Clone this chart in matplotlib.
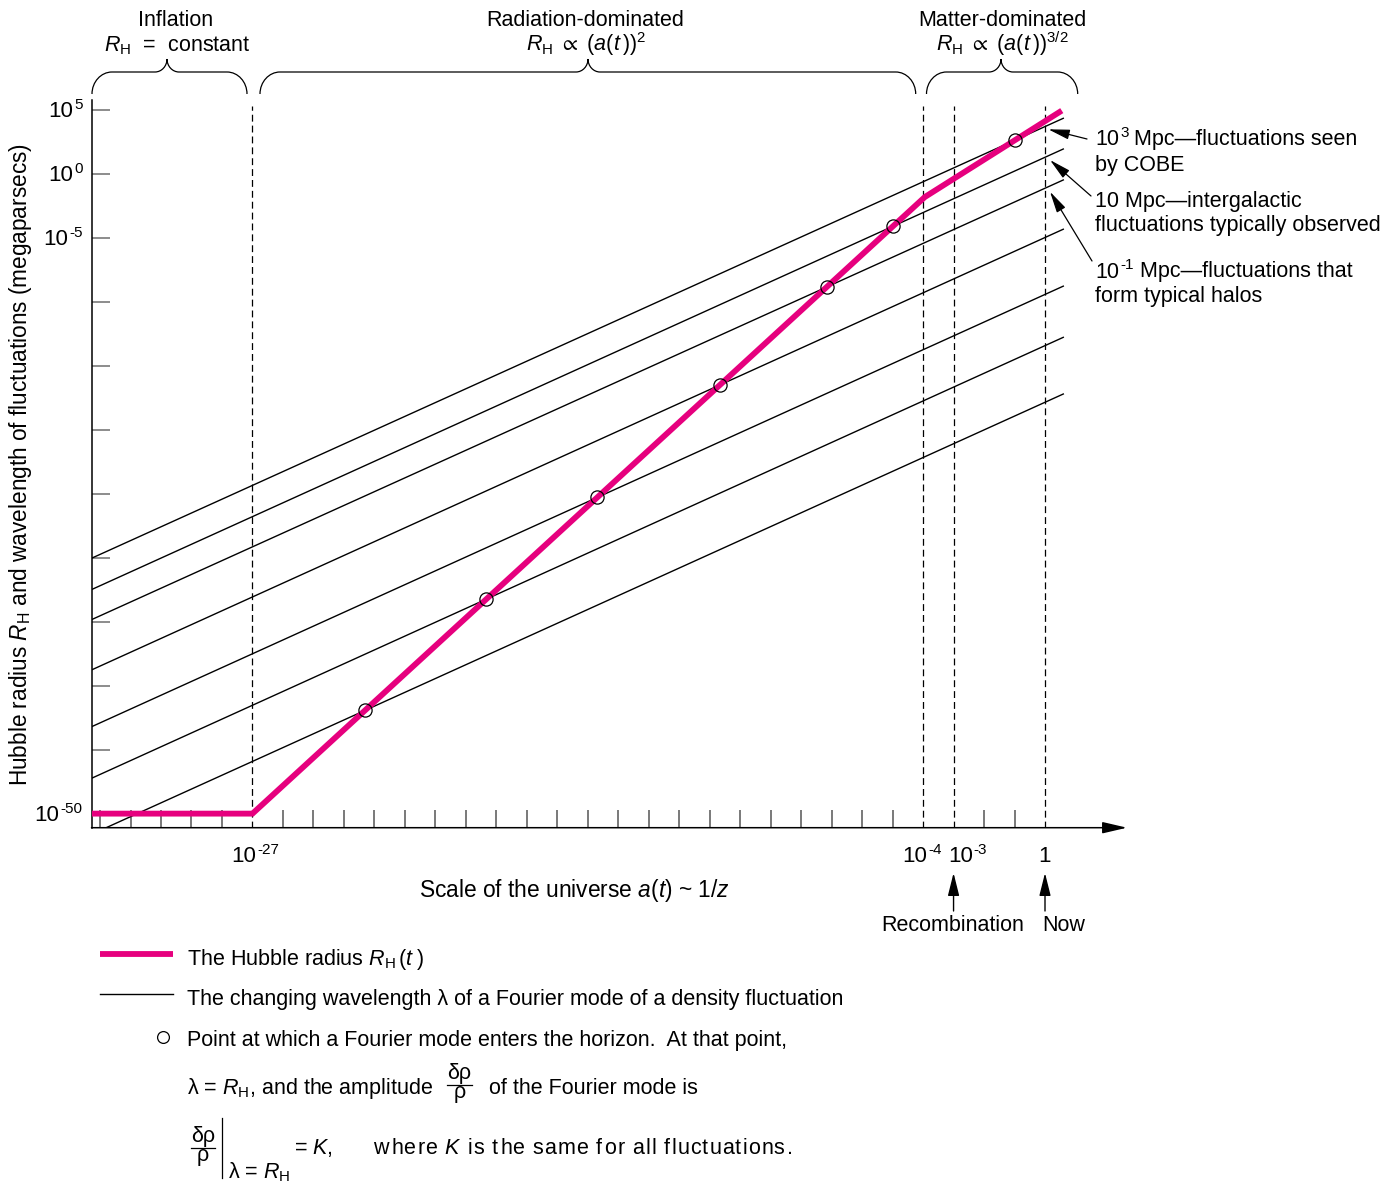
import numpy as np
import matplotlib
matplotlib.use("Agg")
import matplotlib.pyplot as plt
from matplotlib.lines import Line2D
from matplotlib.path import Path
from matplotlib.patches import PathPatch, FancyArrowPatch
from matplotlib import font_manager
from matplotlib.ft2font import FT2Font

plt.rcParams['font.family'] = ['Liberation Sans', 'DejaVu Sans']
plt.rcParams['mathtext.fontset'] = 'custom'
plt.rcParams['mathtext.rm'] = 'Liberation Sans'
plt.rcParams['mathtext.it'] = 'Liberation Sans:italic'
plt.rcParams['mathtext.bf'] = 'Liberation Sans:bold'
plt.rcParams['mathtext.sf'] = 'Liberation Sans'
plt.rcParams['mathtext.fallback'] = 'stixsans'

PINK = '#E6007E'

# ---------------- data ----------------
# horizontal coordinate: schematic log a(t), one unit per tick mark, 0 = today
hubble_x = [-31.28, -26.0, -3.94, 0.55]
hubble_logR = [-50.0, -50.0, -1.80, 4.95]          # log10 R_H (Mpc)

wave_x = [-31.28, 0.60]
wave_logR_start = [-30.04, -32.49, -34.84, -38.77, -43.21, -47.24, -51.62]
wave_logR_end = [4.35, 1.95, -0.47, -4.32, -8.77, -12.77, -17.20]

epoch_x = [-26, -4, -3, 0]
epoch_base = ['10', '10', '10', '1']
epoch_exp = ['-27', '-4', '-3', '']

y_ticks = list(range(5, -51, -5))
y_label_vals = [5, 0, -5, -50]
y_label_exp = ['5', '0', '-5', '-50']

era_titles = ['Inflation', 'Radiation-dominated', 'Matter-dominated']
era_laws = [r'$R_{\mathrm{H}}$  =  constant',
            r'$R_{\mathrm{H}}\ \propto\ (a(t\,))^{2}$',
            r'$R_{\mathrm{H}}\ \propto\ (a(t\,))^{3/2}$']

# ---------------- figure ----------------
W, H = 1395, 1183
fig = plt.figure(figsize=(W / 100, H / 100), dpi=100)
fig.patch.set_facecolor('white')
renderer = fig.canvas.get_renderer()


def fpos(px, py):
    return (px / W, 1 - py / H)


AX_L, AX_R, AX_B, AX_T = 91.5, 1127.0, 827.7, 100.0
ax = fig.add_axes([AX_L / W, 1 - AX_B / H, (AX_R - AX_L) / W, (AX_B - AX_T) / H])
ax.set_xlim(-31.28, 2.69)
ax.set_ylim(-51.10, 5.78)
ax.patch.set_alpha(0)
for s in ['top', 'right', 'bottom']:
    ax.spines[s].set_visible(False)
ax.spines['left'].set_linewidth(1.1)

ax.set_yticks(y_ticks)
ax.set_yticklabels([])
ax.tick_params(axis='y', direction='in', length=13, width=1.1, color='#6e6e6e')
ax.set_xticks([k for k in range(-31, 1) if k not in epoch_x])
ax.set_xticklabels([])
ax.tick_params(axis='x', direction='in', length=13, width=1.1, color='#555555')

# x axis with arrow head
ax.annotate('', xy=(1, 0), xytext=(0, 0), xycoords='axes fraction',
            arrowprops=dict(arrowstyle='-|>,head_length=1.5,head_width=0.35',
                            mutation_scale=10, lw=1.1, color='black',
                            shrinkA=0, shrinkB=0), annotation_clip=False)

# epoch markers
ax.vlines(epoch_x, ax.get_ylim()[0], 5.3, colors='black',
          linestyles=(0, (5.5, 3.2)), lw=0.9, zorder=1)

# wavelengths of Fourier modes
for y0, y1 in zip(wave_logR_start, wave_logR_end):
    ax.plot(wave_x, [y0, y1], color='black', lw=1.0, zorder=2)

# Hubble radius
ax.plot(hubble_x, hubble_logR, color=PINK, lw=4.2, zorder=3,
        solid_capstyle='butt', solid_joinstyle='miter')

# horizon entry points: where R_H overtakes each wavelength
xs = np.linspace(wave_x[0], wave_x[1], 60001)
hub = np.interp(xs, hubble_x, hubble_logR)
cx, cy = [], []
for y0, y1 in zip(wave_logR_start, wave_logR_end):
    wav = np.interp(xs, wave_x, [y0, y1])
    d = hub - wav
    idx = np.where((d[:-1] < 0) & (d[1:] >= 0))[0]
    for i in idx:
        t = -d[i] / (d[i + 1] - d[i])
        xi = xs[i] + t * (xs[i + 1] - xs[i])
        cx.append(xi)
        cy.append(np.interp(xi, wave_x, [y0, y1]))
ax.plot(cx, cy, 'o', mfc='none', mec='black', mew=0.9, ms=9.5, zorder=4)


# ---------------- text helpers ----------------
def rich(px, py, parts, ha='left', **kw):
    """Lay out text pieces on one baseline; numbers are gaps in pixels,
    tuples are (text, fontsize, rise_px)."""
    items, x = [], 0.0
    for p in parts:
        if isinstance(p, (int, float)):
            x += p
            continue
        s, size, rise = p
        t = fig.text(0, 0, s, fontsize=size, ha='left', va='baseline', **kw)
        w = t.get_window_extent(renderer).width
        items.append((t, x, rise))
        x += w
    x0 = px - {'left': 0.0, 'center': x / 2, 'right': x}[ha]
    for t, off, rise in items:
        t.set_position(fpos(x0 + off, py - rise))


def tracked(px, py, runs, size, track):
    """Letter-spaced text: runs are (text, style) pieces set glyph by glyph."""
    x = px
    for s, style in runs:
        path = font_manager.findfont(
            font_manager.FontProperties(family='Liberation Sans', style=style))
        face = FT2Font(path)
        face.set_size(size, 100)
        for ch in s:
            g = face.load_char(ord(ch))
            if ch != ' ':
                fig.text(*fpos(x + g.horiBearingX / 64, py), ch, fontsize=size,
                         style=style, ha='left', va='baseline')
            x += g.linearHoriAdvance / 65536 + track


def data_px(x, y):
    dx, dy = ax.transData.transform((x, y))
    return dx, H - dy


FS = 15.5
SUP = 11

# y tick labels
for v, e in zip(y_label_vals, y_label_exp):
    _, py = data_px(0, v)
    rich(82.5, py + 7.5, [('10', 16, 0), 1, (e, SUP, 8)], ha='right')

# x tick labels
epoch_label_dx = [3, -1, 14, -1]
for xv, b, e, dx in zip(epoch_x, epoch_base, epoch_exp, epoch_label_dx):
    px, _ = data_px(xv, 0)
    parts = [(b, 16, 0)]
    if e:
        parts += [1, (e, SUP, 8)]
    rich(px + dx, 861.7, parts, ha='center')

# axis titles
fig.text(*fpos(574, 897), r'Scale of the universe $a(t)$ ~ 1/$z$',
         fontsize=16.4, ha='center', va='baseline')
fig.text(*fpos(21, 465),
         r'Hubble radius $R_{\mathrm{H}}$ and wavelength of fluctuations (megaparsecs)',
         fontsize=16.3, ha='center', va='center', rotation=90)

# eras with braces
brace_spans = [(92, 247, 167), (260, 915.7, 588), (926.5, 1077.7, 1001)]
title_cx = [176, 585, 1002]
law_cx = [177, 586, 1002]


def brace(x0, x1, xc, y_end=94.0, y_top=72.0, y_tip=59.0, r=20.0, rc=12.0):
    hv = y_end - y_top
    hc = y_top - y_tip
    pts = [
        (x0, y_end),
        (x0, y_end - 0.55 * hv), (x0 + r * 0.45, y_top), (x0 + r, y_top),
        (xc - rc, y_top),
        (xc - rc * 0.45, y_top), (xc, y_top - hc * 0.45), (xc, y_tip),
        (xc, y_top - hc * 0.45), (xc + rc * 0.45, y_top), (xc + rc, y_top),
        (x1 - r, y_top),
        (x1 - r * 0.45, y_top), (x1, y_end - 0.55 * hv), (x1, y_end),
    ]
    C = Path.CURVE4
    codes = [Path.MOVETO, C, C, C, Path.LINETO, C, C, C, C, C, C, Path.LINETO, C, C, C]
    verts = [fpos(x, y) for x, y in pts]
    fig.add_artist(PathPatch(Path(verts, codes), transform=fig.transFigure,
                             fill=False, lw=0.9, color='black'))


for (x0, x1, xc), tcx, lcx, title, law in zip(brace_spans, title_cx, law_cx,
                                              era_titles, era_laws):
    brace(x0, x1, xc)
    fig.text(*fpos(tcx, 25.5), title, fontsize=FS, ha='center', va='baseline')
    fig.text(*fpos(lcx, 51), law, fontsize=FS, ha='center', va='baseline')

# recombination / now
for xv, label, lx in [(-3, 'Recombination', 953), (0, 'Now', 1064)]:
    px, _ = data_px(xv, 0)
    fig.add_artist(FancyArrowPatch(
        fpos(px, 911), fpos(px, 873), transform=fig.transFigure,
        arrowstyle='-|>,head_length=1.4,head_width=0.35', mutation_scale=10,
        lw=1.0, color='black', shrinkA=0, shrinkB=0))
    fig.text(*fpos(lx, 931), label, fontsize=FS, ha='center', va='baseline')

# notes on the right
RX = 1095
rich(RX, 145, [('10', FS, 0), 1, ('3', SUP, 8), (' Mpc\u2014fluctuations seen', FS, 0)])
fig.text(*fpos(RX, 170.5), 'by COBE', fontsize=FS, va='baseline')
fig.text(*fpos(RX, 207), '10 Mpc\u2014intergalactic', fontsize=FS, va='baseline')
fig.text(*fpos(RX, 231), 'fluctuations typically observed', fontsize=FS, va='baseline')
rich(RX, 277.5, [('10', FS, 0), 1, ('-1', SUP, 8), (' Mpc\u2014fluctuations that', FS, 0)])
fig.text(*fpos(RX, 302), 'form typical halos', fontsize=FS, va='baseline')

for tail, tip in [((1087, 139), (1048.3, 129.3)),
                  ((1091, 196), (1050, 160)),
                  ((1092, 261), (1050, 191.7))]:
    fig.add_artist(FancyArrowPatch(
        fpos(*tail), fpos(*tip), transform=fig.transFigure,
        arrowstyle='-|>,head_length=1.3,head_width=0.3', mutation_scale=10,
        lw=0.9, color='black', shrinkA=0, shrinkB=0))

# ---------------- key ----------------
fig.add_artist(Line2D([100 / W, 173 / W], [1 - 954 / H] * 2, color=PINK, lw=4.2,
                      solid_capstyle='butt', transform=fig.transFigure))
fig.text(*fpos(187, 965), r'The Hubble radius $R_{\mathrm{H}}\,(t\;)$', fontsize=FS,
         va='baseline')
fig.add_artist(Line2D([100 / W, 173 / W], [1 - 994 / H] * 2, color='black', lw=1.0,
                      transform=fig.transFigure))
fig.text(*fpos(187, 1005),
         'The changing wavelength \u03bb of a Fourier mode of a density fluctuation',
         fontsize=FS, va='baseline')
fig.add_artist(Line2D([163 / W], [1 - 1037 / H], marker='o', mfc='none', mec='black',
                      mew=0.9, ms=8.5, transform=fig.transFigure))
fig.text(*fpos(187, 1046),
         'Point at which a Fourier mode enters the horizon.  At that point,',
         fontsize=FS, va='baseline')


def fraction(cx, y_bar, half):
    fig.text(*fpos(cx, y_bar - 6), '\u03b4\u03c1', fontsize=FS, ha='center', va='baseline')
    fig.text(*fpos(cx, y_bar + 13), '\u03c1', fontsize=FS, ha='center', va='baseline')
    fig.add_artist(Line2D([(cx - half) / W, (cx + half) / W], [1 - y_bar / H] * 2,
                          color='black', lw=0.9, transform=fig.transFigure))


fig.text(*fpos(187, 1094), '\u03bb = $R_{\\mathrm{H}}$, and the amplitude',
         fontsize=FS, va='baseline')
fraction(459.5, 1085, 12.5)
fig.text(*fpos(489, 1094), 'of the Fourier mode is', fontsize=FS, va='baseline')

fraction(203, 1148, 12)
fig.add_artist(Line2D([222 / W] * 2, [1 - 1118 / H, 1 - 1178 / H], color='black',
                      lw=0.9, transform=fig.transFigure))
fig.text(*fpos(228, 1178), '\u03bb = $R_{\\mathrm{H}}$', fontsize=FS, va='baseline')
fig.text(*fpos(294, 1154), '= $K$,', fontsize=FS, va='baseline')
tracked(373, 1154, [('where ', 'normal'), ('K', 'italic'),
                    (' is the same for all fluctuations.', 'normal')], FS, 1.1)

fig.savefig('out.png', dpi=100)
